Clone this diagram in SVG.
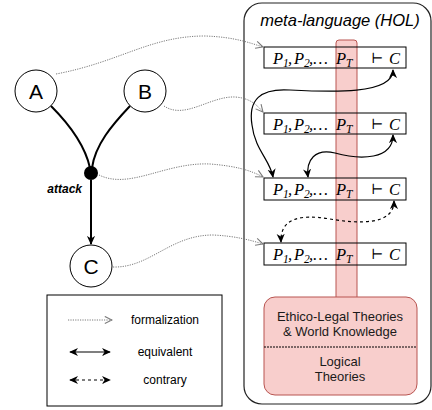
<svg xmlns="http://www.w3.org/2000/svg" width="432" height="410" viewBox="0 0 432 410">
<defs>
<style>
.node{fill:#fff;stroke:#000;stroke-width:1}
.lbl{font-family:"Liberation Sans",Arial,sans-serif;fill:#000}
.frm{fill:none;stroke:#7a7a7a;stroke-width:1;stroke-dasharray:1.2 1.2}
.eq{fill:none;stroke:#000;stroke-width:1.2}
.ct{fill:none;stroke:#000;stroke-width:1.2;stroke-dasharray:3 3}
.row{fill:none;stroke:#000;stroke-width:1}
.pink{fill:#f8cecc;stroke:#b85450;stroke-width:1}
.m{font-family:"Liberation Serif","Times New Roman",serif;font-style:italic;font-size:16.5px;fill:#000}
.s{font-size:11.5px}
.t{font-family:"DejaVu Serif","Liberation Serif",serif;font-style:normal;font-size:14px}
.pt{font-family:"Liberation Sans",Arial,sans-serif;font-size:13px;fill:#1a1a1a;text-anchor:middle}
</style>
<marker id="open" viewBox="0 0 10 10" refX="9" refY="5" markerWidth="9" markerHeight="9" markerUnits="userSpaceOnUse" orient="auto">
<path d="M1,1 L9,5 L1,9" fill="none" stroke="#7a7a7a" stroke-width="1.2"/>
</marker>
<marker id="blk" viewBox="0 0 10 10" refX="9" refY="5" markerWidth="9" markerHeight="9" markerUnits="userSpaceOnUse" orient="auto-start-reverse">
<path d="M0,0.5 L10,5 L0,9.5 L3,5 z" fill="#000"/>
</marker>
</defs>
<rect width="432" height="410" fill="#fff"/>

<g id="meta-language">
<rect x="244" y="3" width="187" height="401" rx="18" fill="none" stroke="#222" stroke-width="1.2"/>
<text x="340" y="26" class="lbl" font-size="16.5" font-style="italic" text-anchor="middle">meta-language (HOL)</text>
</g>

<g id="theories">
<rect x="336" y="40" width="21" height="262" rx="3" class="pink"/>
<rect x="264" y="297" width="153" height="98" rx="11" class="pink"/>
<line x1="264" y1="347" x2="417" y2="347" stroke="#000" stroke-width="1" stroke-dasharray="2 1"/>
<text x="340" y="321" class="pt">Ethico-Legal Theories</text>
<text x="340" y="336" class="pt">&amp; World Knowledge</text>
<text x="340" y="366" class="pt">Logical</text>
<text x="340" y="381" class="pt">Theories</text>
</g>

<g id="row1">
<rect x="264" y="47" width="142" height="21" class="row"/>
<text class="m"><tspan x="273" y="64">P</tspan><tspan class="s" x="283" y="67">1</tspan><tspan x="288" y="64">,</tspan><tspan x="294" y="64">P</tspan><tspan class="s" x="304" y="67">2</tspan><tspan x="309" y="64">,…</tspan><tspan x="336" y="64">P</tspan><tspan class="s" x="346" y="67">T</tspan><tspan class="t" x="371" y="63">⊢</tspan><tspan x="389" y="64">C</tspan></text>
</g>
<g id="row2">
<rect x="264" y="113" width="142" height="21" class="row"/>
<text class="m"><tspan x="273" y="130">P</tspan><tspan class="s" x="283" y="133">1</tspan><tspan x="288" y="130">,</tspan><tspan x="294" y="130">P</tspan><tspan class="s" x="304" y="133">2</tspan><tspan x="309" y="130">,…</tspan><tspan x="336" y="130">P</tspan><tspan class="s" x="346" y="133">T</tspan><tspan class="t" x="371" y="129">⊢</tspan><tspan x="389" y="130">C</tspan></text>
</g>
<g id="row3">
<rect x="264" y="178" width="142" height="22" class="row"/>
<text class="m"><tspan x="273" y="195">P</tspan><tspan class="s" x="283" y="198">1</tspan><tspan x="288" y="195">,</tspan><tspan x="294" y="195">P</tspan><tspan class="s" x="304" y="198">2</tspan><tspan x="309" y="195">,…</tspan><tspan x="336" y="195">P</tspan><tspan class="s" x="346" y="198">T</tspan><tspan class="t" x="371" y="194">⊢</tspan><tspan x="389" y="195">C</tspan></text>
</g>
<g id="row4">
<rect x="264" y="243" width="142" height="22" class="row"/>
<text class="m"><tspan x="273" y="260">P</tspan><tspan class="s" x="283" y="263">1</tspan><tspan x="288" y="260">,</tspan><tspan x="294" y="260">P</tspan><tspan class="s" x="304" y="263">2</tspan><tspan x="309" y="260">,…</tspan><tspan x="336" y="260">P</tspan><tspan class="s" x="346" y="263">T</tspan><tspan class="t" x="371" y="259">⊢</tspan><tspan x="389" y="260">C</tspan></text>
</g>

<g id="A"><circle cx="36" cy="91" r="21" class="node"/><text x="36" y="99" class="lbl" font-size="21" text-anchor="middle">A</text></g>
<g id="B"><circle cx="145" cy="91" r="21" class="node"/><text x="145" y="99" class="lbl" font-size="21" text-anchor="middle">B</text></g>
<g id="attack"><circle cx="91" cy="173" r="7" fill="#000"/><text x="82" y="193" class="lbl" font-size="12" font-weight="bold" font-style="italic" text-anchor="end">attack</text></g>
<g id="C"><circle cx="91" cy="266" r="21" class="node"/><text x="91" y="274" class="lbl" font-size="21" text-anchor="middle">C</text></g>

<g id="connectors">
<path d="M51,106 C70,125 85,145 90,168" fill="none" stroke="#000" stroke-width="2"/>
<path d="M130,106 C112,125 95,145 92,168" fill="none" stroke="#000" stroke-width="2"/>
<path d="M91,180 L91,244" fill="none" stroke="#000" stroke-width="2" marker-end="url(#blk)"/>
<path d="M56,74 C120,62 150,36 205,36 C235,37 250,43 263,47" class="frm" marker-end="url(#open)"/>
<path d="M164,106 C185,120 210,96 235,97 C250,98 257,105 263,112" class="frm" marker-end="url(#open)"/>
<path d="M99,175 C130,190 165,162 210,164 C235,166 250,170 263,177" class="frm" marker-end="url(#open)"/>
<path d="M113,267 C150,268 170,235 213,235 C235,236 250,240 263,244" class="frm" marker-end="url(#open)"/>
<path d="M393,70 C393,95 330,92 290,90 C260,88 248,100 252,125 C255,150 270,160 273,177" class="eq" marker-start="url(#blk)" marker-end="url(#blk)"/>
<path d="M393,135 C393,160 360,160 335,153 C315,148 306,160 308,177" class="eq" marker-start="url(#blk)" marker-end="url(#blk)"/>
<path d="M394,201 C394,225 360,224 330,219 C300,214 280,218 281,242" class="ct" marker-start="url(#blk)" marker-end="url(#blk)"/>
</g>

<g id="legend">
<rect x="47" y="295" width="175" height="111" fill="#fff" stroke="#000" stroke-width="1"/>
<path d="M68,320 L112,320" class="frm" marker-end="url(#open)"/>
<text x="165" y="324" class="lbl" font-size="12" text-anchor="middle">formalization</text>
<path d="M70,352 L110,352" class="eq" marker-start="url(#blk)" marker-end="url(#blk)"/>
<text x="165" y="356" class="lbl" font-size="12" text-anchor="middle">equivalent</text>
<path d="M70,380 L110,380" class="ct" marker-start="url(#blk)" marker-end="url(#blk)"/>
<text x="165" y="384" class="lbl" font-size="12" text-anchor="middle">contrary</text>
</g>
</svg>
